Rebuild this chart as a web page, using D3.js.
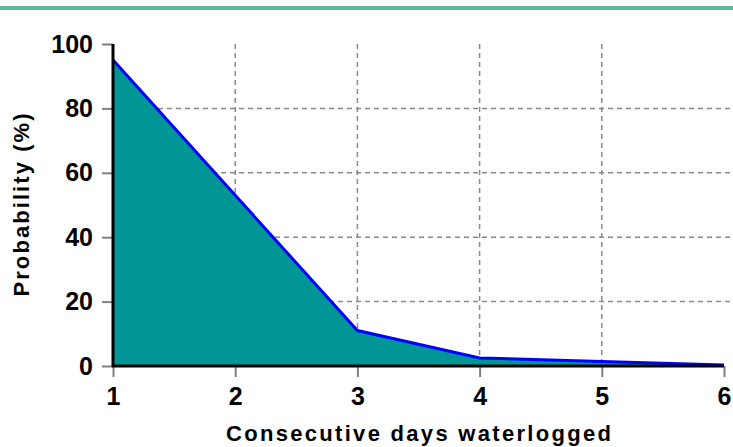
<!DOCTYPE html>
<html>
<head>
<meta charset="utf-8">
<script src="https://cdn.jsdelivr.net/npm/d3@7"></script>
<style>
  body { margin: 0; background: #fff; }
  svg { display: block; }
  .tick text { font-family: "Liberation Sans", Arial, sans-serif; font-weight: bold; font-size: 25px; fill: #000; }
</style>
</head>
<body>
<div class="container"></div>
<script>
  // data
  const days = [1, 2, 3, 4, 5, 6];
  const probability = [95, 53, 11, 2.5, 1.4, 0.3];
  const xTicks = [1, 2, 3, 4, 5, 6];
  const yTicks = [0, 20, 40, 60, 80, 100];

  const width = 733, height = 447;

  const svg = d3.select(".container")
      .append("svg")
      .attr("width", width)
      .attr("height", height);

  // green band on top
  svg.append("rect")
      .attr("x", 0).attr("y", 6)
      .attr("width", width).attr("height", 4)
      .attr("fill", "#5fbb93");

  const xScale = d3.scaleLinear().domain([1, 6]).range([113, 724]);
  const yScale = d3.scaleLinear().domain([0, 100]).range([366, 44]);

  const points = days.map((d, i) => ({ x: d, y: probability[i] }));

  // grid
  svg.append("g")
      .selectAll("line")
      .data(yTicks.filter(t => t > 0 && t < 100))
      .enter()
      .append("line")
      .attr("x1", xScale(1)).attr("x2", 731)
      .attr("y1", d => yScale(d)).attr("y2", d => yScale(d))
      .attr("stroke", "#8a8a8a")
      .attr("stroke-width", 1.5)
      .attr("stroke-dasharray", "5,4");

  svg.append("g")
      .selectAll("line")
      .data(xTicks.filter(t => t > 1 && t < 6))
      .enter()
      .append("line")
      .attr("x1", d => xScale(d)).attr("x2", d => xScale(d))
      .attr("y1", yScale(100)).attr("y2", yScale(0))
      .attr("stroke", "#8a8a8a")
      .attr("stroke-width", 1.5)
      .attr("stroke-dasharray", "5,4");

  // area + line
  const area = d3.area()
      .x(d => xScale(d.x))
      .y0(yScale(0))
      .y1(d => yScale(d.y));

  const line = d3.line()
      .x(d => xScale(d.x))
      .y(d => yScale(d.y));

  svg.append("path")
      .datum(points)
      .attr("d", area)
      .attr("fill", "#009696");

  svg.append("path")
      .datum(points)
      .attr("d", line)
      .attr("fill", "none")
      .attr("stroke", "#0000ff")
      .attr("stroke-width", 3);

  // axes
  const yAxis = d3.axisLeft(yScale).tickValues(yTicks).tickSize(11).tickSizeOuter(0).tickPadding(9);
  const xAxis = d3.axisBottom(xScale).tickValues(xTicks).tickFormat(d3.format("d")).tickSize(11).tickSizeOuter(0).tickPadding(10);

  const gy = svg.append("g")
      .attr("transform", `translate(${xScale(1)},0)`)
      .call(yAxis);
  gy.select(".domain").remove();
  gy.selectAll(".tick line").attr("stroke", "#808080").attr("stroke-width", 2);

  const gx = svg.append("g")
      .attr("transform", `translate(0,${yScale(0)})`)
      .call(xAxis);
  gx.select(".domain").remove();
  gx.selectAll(".tick line").attr("stroke", "#808080").attr("stroke-width", 2);

  // axis lines
  svg.append("line")
      .attr("x1", xScale(1)).attr("x2", xScale(1))
      .attr("y1", yScale(100)).attr("y2", yScale(0) + 1)
      .attr("stroke", "#000").attr("stroke-width", 3);
  svg.append("line")
      .attr("x1", xScale(1) - 1).attr("x2", xScale(6))
      .attr("y1", yScale(0)).attr("y2", yScale(0))
      .attr("stroke", "#000").attr("stroke-width", 3);

  // titles
  svg.append("text")
      .attr("x", (xScale(1) + xScale(6)) / 2)
      .attr("y", 441)
      .attr("text-anchor", "middle")
      .attr("font-family", "Liberation Sans, Arial, sans-serif")
      .attr("font-weight", "bold")
      .attr("font-size", 22)
      .attr("textLength", 385)
      .attr("lengthAdjust", "spacing")
      .text("Consecutive days waterlogged");

  svg.append("text")
      .attr("transform", `translate(29,${(yScale(0) + yScale(100)) / 2}) rotate(-90)`)
      .attr("text-anchor", "middle")
      .attr("font-family", "Liberation Sans, Arial, sans-serif")
      .attr("font-weight", "bold")
      .attr("font-size", 22)
      .attr("textLength", 183)
      .attr("lengthAdjust", "spacing")
      .text("Probability (%)");
</script>
</body>
</html>
